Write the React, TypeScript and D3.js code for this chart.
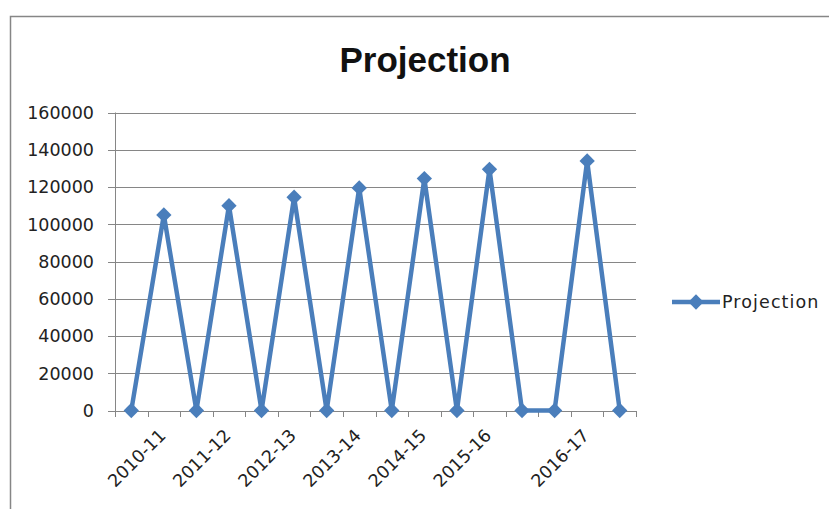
import React, { useEffect, useRef } from 'react';
import * as d3 from 'd3';

// category slots along the x axis (blank ones carry no label)
const categories = ['', '2010-11', '', '2011-12', '', '2012-13', '', '2013-14', '', '2014-15', '', '2015-16', '', '', '2016-17', ''];
const projection = [0, 105000, 0, 110000, 0, 114500, 0, 119500, 0, 124500, 0, 129500, 0, 0, 134000, 0];
const yTicks = [0, 20000, 40000, 60000, 80000, 100000, 120000, 140000, 160000];
const seriesName = 'Projection';

const App = () => {
  const svgRef = useRef<SVGSVGElement | null>(null);

  useEffect(() => {
    const width = 829;
    const height = 509;
    const svg = d3.select(svgRef.current);
    svg.selectAll('*').remove();
    svg.attr('width', width).attr('height', height);

    const blue = '#4A7EBB';
    const grey = '#868686';
    const font = 'DejaVu Sans, sans-serif';

    svg.append('rect').attr('width', width).attr('height', height).attr('fill', 'white');

    // chart frame (top + left visible)
    svg.append('path')
      .attr('d', `M10.5,${height} L10.5,16.5 L${width},16.5`)
      .attr('fill', 'none')
      .attr('stroke', grey)
      .attr('stroke-width', 1.5);

    const x = d3.scaleBand<number>()
      .domain(categories.map((_, i) => i))
      .range([115, 636])
      .padding(0);

    const y = d3.scaleLinear()
      .domain([0, 160000])
      .range([410.5, 112.5]);

    const cx = (i: number) => (x(i) as number) + x.bandwidth() / 2;

    // gridlines
    svg.append('g')
      .selectAll('line')
      .data(yTicks)
      .enter().append('line')
      .attr('x1', 108)
      .attr('x2', 636)
      .attr('y1', d => Math.round(y(d)) + 0.5)
      .attr('y2', d => Math.round(y(d)) + 0.5)
      .attr('stroke', grey)
      .attr('stroke-width', 1);

    // y axis line
    svg.append('line')
      .attr('x1', 115.5).attr('x2', 115.5)
      .attr('y1', y(160000)).attr('y2', y(0) + 0.5)
      .attr('stroke', grey);

    // y labels
    svg.append('g')
      .selectAll('text')
      .data(yTicks)
      .enter().append('text')
      .attr('x', 94)
      .attr('y', d => y(d))
      .attr('dy', '0.36em')
      .attr('text-anchor', 'end')
      .style('font-family', font)
      .style('font-size', '17.5px')
      .style('fill', '#222')
      .text(d => String(d));

    // x tick marks at category boundaries
    const bounds = d3.range(categories.length + 1).map(i => 115 + i * x.bandwidth());
    svg.append('g')
      .selectAll('line')
      .data(bounds)
      .enter().append('line')
      .attr('x1', d => Math.round(d) + 0.5)
      .attr('x2', d => Math.round(d) + 0.5)
      .attr('y1', Math.round(y(0)))
      .attr('y2', Math.round(y(0)) + 6)
      .attr('stroke', grey);

    // x labels
    svg.append('g')
      .selectAll('text')
      .data(categories.map((c, i) => ({ c, i })).filter(d => d.c !== ''))
      .enter().append('text')
      .attr('transform', d => `translate(${cx(d.i) + 3},${y(0) + 26}) rotate(-45)`)
      .attr('text-anchor', 'end')
      .style('font-family', font)
      .style('font-size', '17.5px')
      .style('fill', '#222')
      .text(d => d.c);

    // series line
    const line = d3.line<number>()
      .x((_, i) => cx(i))
      .y(d => y(d));

    svg.append('path')
      .datum(projection)
      .attr('fill', 'none')
      .attr('stroke', blue)
      .attr('stroke-width', 4.5)
      .attr('stroke-linejoin', 'round')
      .attr('d', line);

    const diamond = d3.symbol().type(d3.symbolDiamond2).size(150);

    svg.append('g')
      .selectAll('path')
      .data(projection)
      .enter().append('path')
      .attr('transform', (d, i) => `translate(${cx(i)},${y(d)})`)
      .attr('d', diamond)
      .attr('fill', blue);

    // title
    svg.append('text')
      .attr('x', 425)
      .attr('y', 72)
      .attr('text-anchor', 'middle')
      .style('font-family', 'Liberation Sans, Arial, sans-serif')
      .style('font-weight', 'bold')
      .style('font-size', '35px')
      .style('fill', '#111')
      .text(seriesName);

    // legend
    const ly = 302;
    svg.append('line')
      .attr('x1', 672).attr('x2', 720)
      .attr('y1', ly).attr('y2', ly)
      .attr('stroke', blue)
      .attr('stroke-width', 4.5);
    svg.append('path')
      .attr('transform', `translate(696,${ly})`)
      .attr('d', diamond)
      .attr('fill', blue);
    svg.append('text')
      .attr('x', 722)
      .attr('y', ly)
      .attr('dy', '0.36em')
      .style('font-family', font)
      .style('font-size', '17.5px')
      .style('letter-spacing', '1.1px')
      .style('fill', '#222')
      .text(seriesName);
  }, []);

  return (
    <div style={{ position: 'absolute', left: 0, top: 0 }}>
      <svg ref={svgRef}></svg>
    </div>
  );
};

export default App;
